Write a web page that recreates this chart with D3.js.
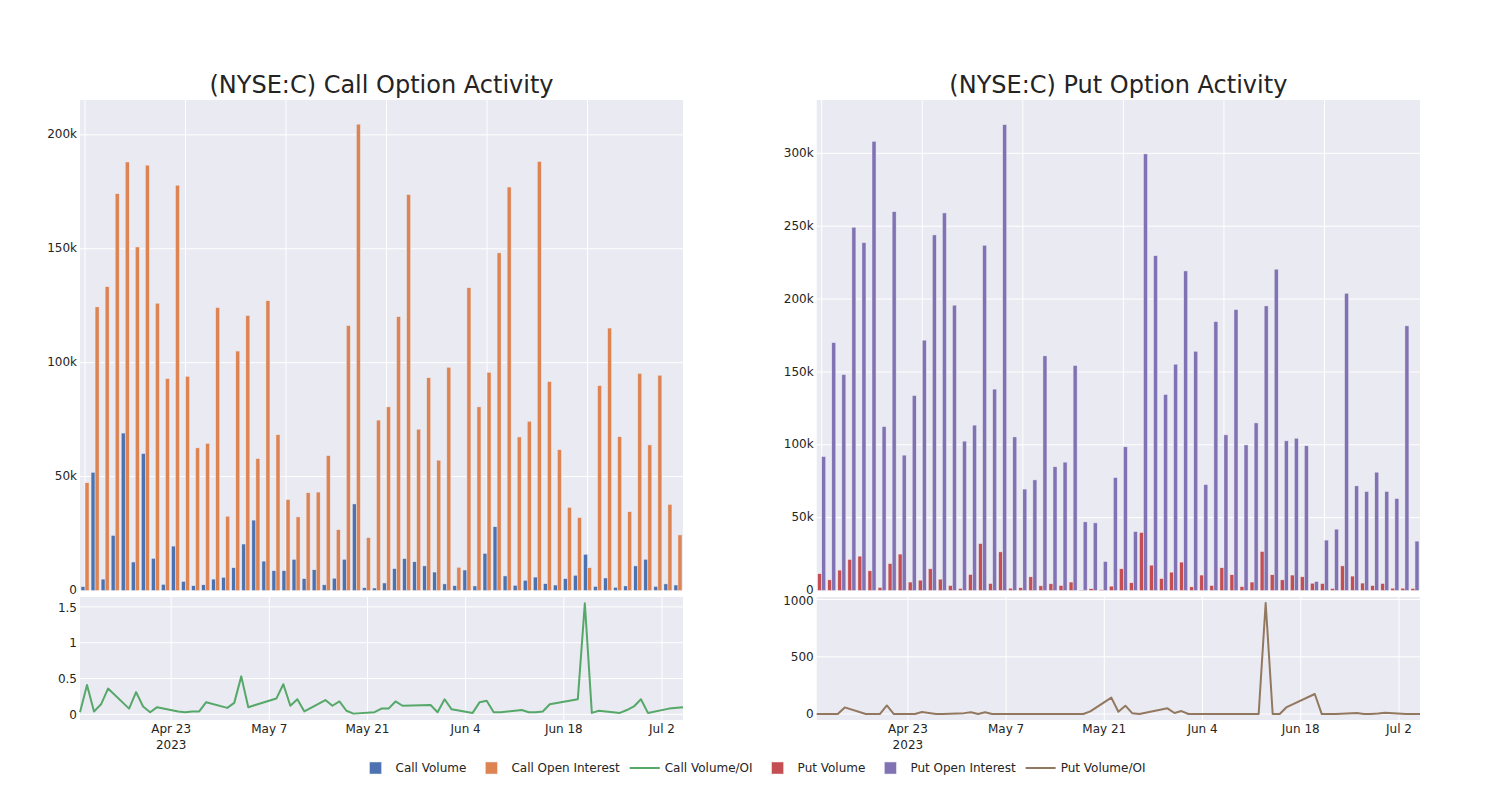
<!DOCTYPE html>
<html><head><meta charset="utf-8">
<script src="https://cdn.jsdelivr.net/npm/d3@7"></script>
<style>
body{margin:0;background:#fff}
text{font-family:"DejaVu Sans",sans-serif;fill:rgb(36,36,36)}
</style>
</head><body>
<svg id="chart" width="1500" height="800"></svg>
<script>
// ---------- DATA ----------
const dates = ["2023-04-10","2023-04-11","2023-04-12","2023-04-13","2023-04-14",
"2023-04-17","2023-04-18","2023-04-19","2023-04-20","2023-04-21",
"2023-04-24","2023-04-25","2023-04-26","2023-04-27","2023-04-28",
"2023-05-01","2023-05-02","2023-05-03","2023-05-04","2023-05-05",
"2023-05-08","2023-05-09","2023-05-10","2023-05-11","2023-05-12",
"2023-05-15","2023-05-16","2023-05-17","2023-05-18","2023-05-19",
"2023-05-22","2023-05-23","2023-05-24","2023-05-25","2023-05-26",
"2023-05-30","2023-05-31","2023-06-01","2023-06-02",
"2023-06-05","2023-06-06","2023-06-07","2023-06-08","2023-06-09",
"2023-06-12","2023-06-13","2023-06-14","2023-06-15","2023-06-16",
"2023-06-20","2023-06-21","2023-06-22","2023-06-23",
"2023-06-26","2023-06-27","2023-06-28","2023-06-29","2023-06-30",
"2023-07-03","2023-07-05"];

const callVolume = [1700,51900,5000,24200,69100,12500,60100,14100,2700,19500,
4000,2100,2500,5000,5800,10000,20400,30900,12900,8700,
8700,13700,5200,9100,2500,5400,13700,38000,1200,1100,
3300,9600,14000,12600,10800,8100,2900,2100,9000,2000,
16300,28000,6400,2300,4500,5900,3000,2400,5200,6700,
15900,1800,5500,1400,2000,10800,13700,1800,2900,2400];

const callOpenInterest = [47300,124500,133400,174200,188100,150800,186700,126100,93000,177900,
94000,62600,64600,124200,32600,105100,120700,57900,127200,68400,
39900,32300,42900,43200,59200,26700,116300,204700,23200,74800,
80600,120200,173800,70800,93400,57200,98000,10200,132900,80600,
95800,148200,177100,67400,74300,188300,91700,61800,36500,32000,
10000,89900,115200,67500,34600,95300,63900,94500,37800,24400];

const callVolumeOI = [0.03,0.41,0.04,0.14,0.36,0.08,0.31,0.11,0.03,0.10,
0.04,0.03,0.04,0.04,0.17,0.09,0.16,0.53,0.10,0.13,
0.22,0.42,0.12,0.21,0.04,0.20,0.12,0.18,0.05,0.01,
0.03,0.08,0.08,0.18,0.12,0.13,0.03,0.21,0.07,0.02,
0.17,0.19,0.03,0.03,0.06,0.03,0.03,0.04,0.14,0.21,
1.55,0.02,0.05,0.02,0.06,0.11,0.21,0.02,0.08,0.10];

const putVolume = [11500,7300,14000,21300,23600,13500,2100,18500,25000,5800,
7100,14900,7800,3400,1400,11000,32200,4800,26500,1600,
1900,9400,3200,4600,3400,5800,300,1200,500,3000,
14900,5300,39800,17400,8200,12600,19500,2500,10600,3400,
15600,10800,2700,5800,26800,10800,7300,10600,9400,5000,
4800,1400,16900,9900,5100,3400,4800,1600,1600,1400];

const putOpenInterest = [91900,170100,148200,249300,238700,308300,112500,260000,92900,133800,
171800,244000,259100,195800,102500,113500,236900,138200,319700,105400,
69600,75900,161000,84900,88100,154400,47100,46400,19900,77500,
98600,40500,299600,229800,134500,155300,219300,164200,72700,184500,
106800,192800,99900,115000,195300,220500,102700,104500,99300,6200,
34600,42100,204000,71800,67900,81200,68000,63100,181600,33900];

const putVolumeOI = [0,0,0,0,58,0,0,0,75,0,
0,18,10,0,0,8,15,0,15,0,
0,0,0,0,0,0,0,0,0,23,
143,20,73,6,0,50,9,26,0,0,
0,0,0,0,0,970,0,0,61,175,
0,0,0,10,0,0,5,12,0,0];

const callTopTicks = [0,50000,100000,150000,200000];
const putTopTicks = [0,50000,100000,150000,200000,250000,300000];
const callRatioTicks = [0,0.5,1,1.5];
const putRatioTicks = [0,500,1000];
const dateTicks = ["2023-04-23","2023-05-07","2023-05-21","2023-06-04","2023-06-18","2023-07-02"];
const dateTickLabels = ["Apr 23","May 7","May 21","Jun 4","Jun 18","Jul 2"];

const seriesNames = ["Call Volume","Call Open Interest","Call Volume/OI","Put Volume","Put Open Interest","Put Volume/OI"];
const colors = {callVol:"#4C72B0", callOI:"#DD8452", callRatio:"#55A868", putVol:"#C44E52", putOI:"#8172B3", putRatio:"#937860"};

// ---------- DRAW ----------
const svg = d3.select("#chart");
const parse = d3.utcParse("%Y-%m-%d");
const BG = "#EAEAF2";
const TOP = [100, 590.5], BOT = [597, 720];

function panel(o){
  const g = svg.append("g");
  g.append("text").attr("x",(o.x0+o.x1)/2).attr("y",93).attr("text-anchor","middle")
    .style("font-size","24px").text(o.title);

  // ---- top bars ----
  g.append("rect").attr("x",o.x0).attr("y",TOP[0]).attr("width",o.x1-o.x0).attr("height",TOP[1]-TOP[0]).attr("fill",BG);
  const xb = d3.scaleBand().domain(d3.range(dates.length)).range([o.x0,o.x1]);
  const bw = xb.bandwidth();
  const yt = d3.scaleLinear().domain([0,o.topMax]).range([TOP[1],TOP[0]]);
  g.selectAll(null).data(o.topTicks).enter().append("line")
    .attr("x1",o.x0).attr("x2",o.x1).attr("y1",d=>yt(d)).attr("y2",d=>yt(d))
    .attr("stroke","#fff").attr("stroke-width",1);
  g.selectAll(null).data(d3.range(0,dates.length,10)).enter().append("line")
    .attr("x1",d=>xb(d)+bw/2).attr("x2",d=>xb(d)+bw/2).attr("y1",TOP[0]).attr("y2",TOP[1])
    .attr("stroke","#fff").attr("stroke-width",1);
  [[o.vol,o.cVol,0],[o.oi,o.cOI,1]].forEach(([vals,col,j])=>{
    g.selectAll(null).data(vals).enter().append("rect")
      .attr("x",(d,i)=>xb(i)+bw*0.1+j*bw*0.4)
      .attr("width",bw*0.4)
      .attr("y",d=>yt(d)).attr("height",d=>yt(0)-yt(d))
      .attr("fill",col).attr("stroke","rgb(234,234,242)").attr("stroke-width",0.5);
  });
  g.selectAll(null).data(o.topTicks).enter().append("text")
    .attr("x",o.x0-3).attr("y",d=>yt(d)).attr("dy","0.3em").attr("text-anchor","end")
    .style("font-size","12px").text(d=>d3.format("~s")(d));

  // ---- bottom line ----
  g.append("rect").attr("x",o.x0).attr("y",BOT[0]).attr("width",o.x1-o.x0).attr("height",BOT[1]-BOT[0]).attr("fill",BG);
  const xt = d3.scaleUtc().domain([parse(dates[0]),parse(dates[dates.length-1])]).range([o.x0,o.x1]);
  const yb = d3.scaleLinear().domain(o.botDomain).range([BOT[1],BOT[0]]);
  g.selectAll(null).data(o.botTicks).enter().append("line")
    .attr("x1",o.x0).attr("x2",o.x1).attr("y1",d=>yb(d)).attr("y2",d=>yb(d))
    .attr("stroke","#fff").attr("stroke-width",1);
  g.selectAll(null).data(dateTicks).enter().append("line")
    .attr("x1",d=>xt(parse(d))).attr("x2",d=>xt(parse(d))).attr("y1",BOT[0]).attr("y2",BOT[1])
    .attr("stroke","#fff").attr("stroke-width",1);
  const line = d3.line().x((d,i)=>xt(parse(dates[i]))).y(d=>yb(d));
  g.append("path").attr("d",line(o.ratio)).attr("fill","none").attr("stroke",o.cRatio)
    .attr("stroke-width",2).attr("stroke-linejoin","round");
  g.selectAll(null).data(o.botTicks).enter().append("text")
    .attr("x",o.x0-3).attr("y",d=>yb(d)).attr("dy",d=>d===o.botTicks[o.botTicks.length-1]?"0.42em":"0.35em").attr("text-anchor","end")
    .style("font-size","12px").text(d=>String(d));
  dateTicks.forEach((d,i)=>{
    g.append("text").attr("x",xt(parse(d))).attr("y",733).attr("text-anchor","middle")
      .style("font-size","12px").text(dateTickLabels[i]);
    if(i===0){
      g.append("text").attr("x",xt(parse(d))).attr("y",748.5).attr("text-anchor","middle")
        .style("font-size","12px").text("2023");
    }
  });
}

panel({x0:80,x1:683,title:"(NYSE:C) Call Option Activity",vol:callVolume,oi:callOpenInterest,ratio:callVolumeOI,
  cVol:colors.callVol,cOI:colors.callOI,cRatio:colors.callRatio,topMax:215300,topTicks:callTopTicks,
  botDomain:[-0.079,1.638],botTicks:callRatioTicks});
panel({x0:816.7,x1:1420,title:"(NYSE:C) Put Option Activity",vol:putVolume,oi:putOpenInterest,ratio:putVolumeOI,
  cVol:colors.putVol,cOI:colors.putOI,cRatio:colors.putRatio,topMax:336600,topTicks:putTopTicks,
  botDomain:[-52,1022],botTicks:putRatioTicks});

// ---- legend ----
const legendItems = [
  {name:seriesNames[0],type:"bar",color:colors.callVol},
  {name:seriesNames[1],type:"bar",color:colors.callOI},
  {name:seriesNames[2],type:"line",color:colors.callRatio},
  {name:seriesNames[3],type:"bar",color:colors.putVol},
  {name:seriesNames[4],type:"bar",color:colors.putOI},
  {name:seriesNames[5],type:"line",color:colors.putRatio}];
const lg = svg.append("g");
let cx = 0;
const LY = 768;
legendItems.forEach(it=>{
  const ig = lg.append("g").attr("transform",`translate(${cx},0)`);
  if(it.type==="bar"){
    ig.append("rect").attr("x",14).attr("y",LY-6).attr("width",12).attr("height",12)
      .attr("fill",it.color).attr("stroke","rgb(234,234,242)").attr("stroke-width",0.5);
  } else {
    ig.append("line").attr("x1",5).attr("x2",35).attr("y1",LY).attr("y2",LY)
      .attr("stroke",it.color).attr("stroke-width",2);
  }
  const t = ig.append("text").attr("x",40).attr("y",LY).attr("dy","0.35em").style("font-size","12px").text(it.name);
  cx += 40 + t.node().getComputedTextLength() + 5;
});
lg.attr("transform",`translate(${753 - cx/2},0)`);
</script>
</body></html>
